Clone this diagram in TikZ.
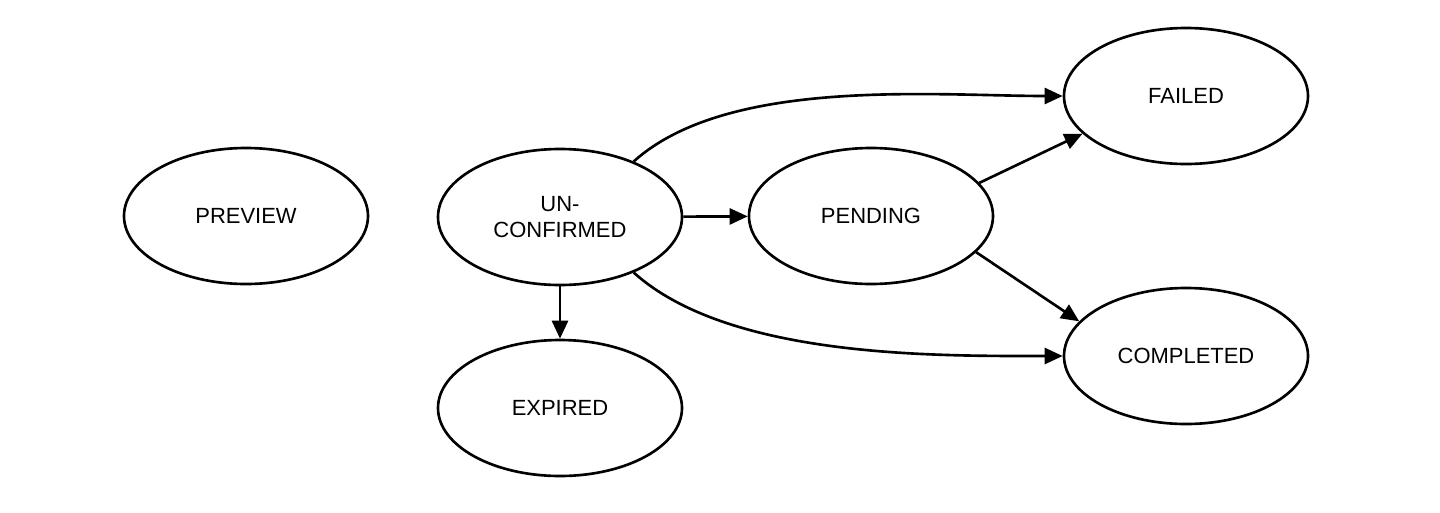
\documentclass[tikz,border=0pt]{standalone}
\usepackage{fontspec}
\setmainfont{Liberation Sans}
\usetikzlibrary{shapes.geometric,arrows.meta}

\begin{document}
\begin{tikzpicture}[
    state/.style={ellipse, draw, line width=1.5pt, minimum width=4.88cm, minimum height=2.72cm, inner sep=0pt, align=center, font=\fontsize{12.5}{15}\selectfont},
    trans/.style={line width=1.5pt, -{Triangle[length=0.36cm,width=0.32cm]}}
]
    % Fix the page size
    \useasboundingbox (0,0) rectangle (28.8,-10.24);

    % Draw the states
    \node[state] (preview) at (4.92,-4.32) {PREVIEW};
    \node[state] (unconfirmed) at (11.2,-4.34) {UN-\\CONFIRMED};
    \node[state] (pending) at (17.42,-4.32) {PENDING};
    \node[state] (failed) at (23.72,-1.92) {FAILED};
    \node[state] (completed) at (23.72,-7.12) {COMPLETED};
    \node[state] (expired) at (11.2,-8.16) {EXPIRED};

    % Draw the transitions
    \draw[trans] (unconfirmed) -- (pending);
    \draw[trans] (unconfirmed) -- (expired);
    \draw[trans] (unconfirmed.37) to[out=42, in=180, looseness=0.75] (failed.west);
    \draw[trans] (unconfirmed.-37) to[out=-42, in=180, looseness=0.75] (completed.west);
    \draw[trans] (pending.17) -- (failed.200);
    \draw[trans] (pending.-19) -- (completed.162);
\end{tikzpicture}
\end{document}
